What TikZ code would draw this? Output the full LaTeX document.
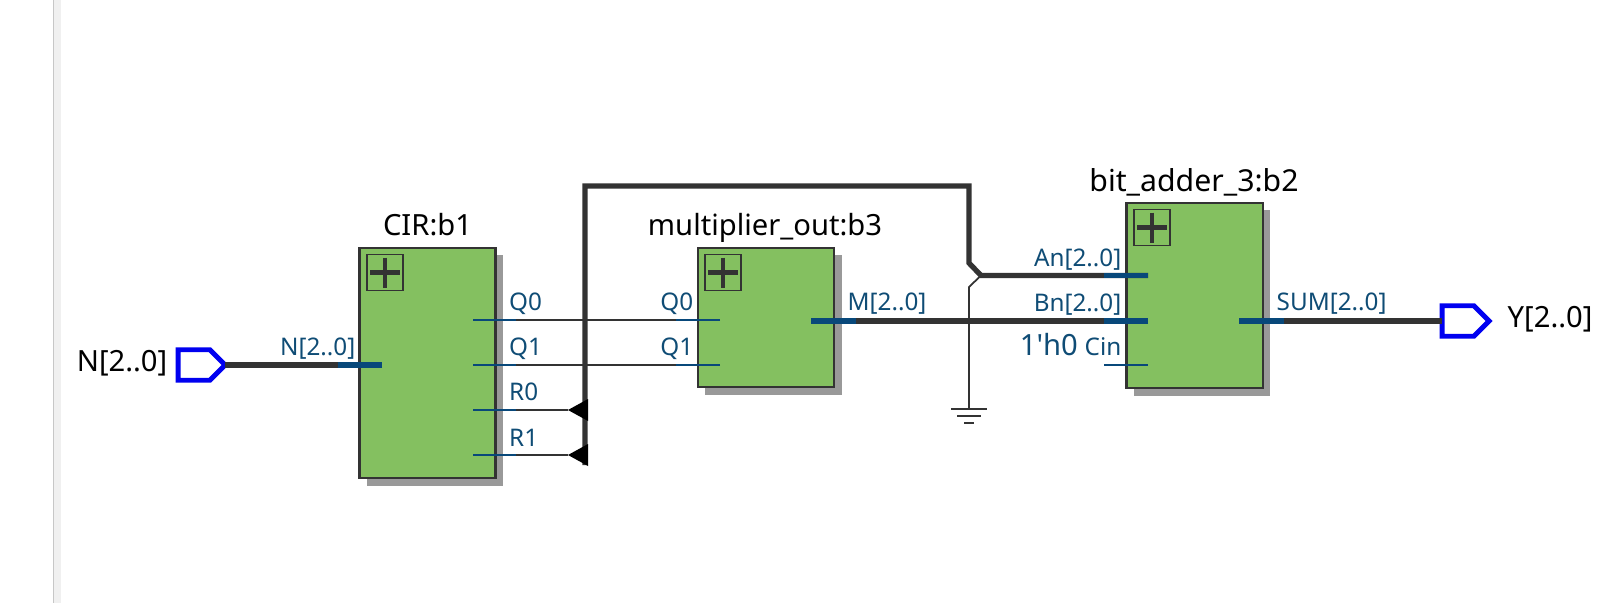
\documentclass[tikz,border=0pt]{standalone}
\usepackage{xcolor}
\usepackage{fontspec}
\setmainfont{Noto Sans}
\usetikzlibrary{shapes.symbols, arrows.meta, positioning, calc, shadows}
\definecolor{qgreen}{HTML}{84C060}
\definecolor{qwire}{HTML}{333333}
\definecolor{qport}{HTML}{0F4C75}
\definecolor{qstub}{HTML}{08487A}
\definecolor{qpin}{HTML}{0000F0}
\definecolor{qshadow}{HTML}{999999}

\begin{document}
\begin{tikzpicture}[
    x=0.01cm, y=-0.01cm,
    block/.style={rectangle, draw=qwire, line width=0.6pt, fill=qgreen, inner sep=0pt, outer sep=0pt, drop shadow={shadow xshift=0.075cm, shadow yshift=-0.075cm, fill=qshadow, opacity=1}},
    expandbox/.style={rectangle, draw=qwire, line width=0.5pt, inner sep=0pt, outer sep=0pt, minimum width=3.6mm, minimum height=3.6mm,
        path picture={\draw[qwire, line width=1.2pt] (path picture bounding box.center) +(-15,0) -- +(15,0) +(0,-15) -- +(0,15);}},
    iopin/.style={signal, signal to=east, signal pointer angle=90, draw=qpin, line width=1.4pt, inner sep=0pt, outer sep=0pt, minimum width=4.7mm, minimum height=3.05mm},
    thinwire/.style={draw=qwire, line width=0.5pt},
    buswire/.style={draw=qwire, line width=1.5pt, line join=miter},
    thinstub/.style={draw=qstub, line width=0.55pt},
    busstub/.style={draw=qstub, line width=1.5pt},
    ripper/.style={fill=black, draw=none},
    portname/.style={font=\fontsize{6.9}{8}\selectfont, color=qport, inner sep=0pt},
    bigname/.style={font=\fontsize{8.3}{10}\selectfont, color=black, inner sep=0pt}
]
\useasboundingbox (0,0) rectangle (1600,603);

% window edge
\fill[black!6] (53,0) rectangle (61,603);
\fill[black!22] (53,0) rectangle (54,603);

\node[block, minimum width=13.6mm, minimum height=23mm] (cir) at (427.5,363) {};
\node[block, minimum width=13.6mm, minimum height=13.9mm] (mult) at (766,317.5) {};
\node[block, minimum width=13.6mm, minimum height=18.5mm] (adder) at (1194.5,295.5) {};

\foreach \blk/\px/\py in {cir/385/272.5, mult/723/272.5, adder/1152/227.5}
    \node[expandbox] (\blk plus) at (\px,\py) {};

\node[iopin] (npin) at (194,365) {};
\node[iopin] (ypin) at (1458,321) {};

% pin ends
\coordinate (cirn) at (382,365);
\coordinate (cirq0) at (473,320);
\coordinate (cirq1) at (473,365);
\coordinate (cirr0) at (473,410);
\coordinate (cirr1) at (473,455);
\coordinate (multq0) at (720,320);
\coordinate (multq1) at (720,365);
\coordinate (multm) at (811,321);
\coordinate (adda) at (1148,275.5);
\coordinate (addb) at (1148,321);
\coordinate (addc) at (1148,365);
\coordinate (adds) at (1239,321);

\coordinate (r0tip) at (568,410);
\coordinate (r1tip) at (568,455);
\coordinate (busend) at (585,465);
\coordinate (bustop) at (969,186);
\coordinate (hook) at (969,263);
\coordinate (tap) at (981,275.5);
\coordinate (gndtap) at (969,287);
\coordinate (gnd) at (969,409);

% thin nets
\draw[thinwire] (cirq0) -- (multq0);
\draw[thinwire] (cirq1) -- (multq1);
\draw[thinwire] (cirr0) -- (r0tip);
\draw[thinwire] (cirr1) -- (r1tip);
\draw[thinwire] (tap) -- (gndtap) -- (gnd);
\foreach \w/\d in {18/0, 12/7, 5/14}
    \draw[thinwire] (gnd) ++(-\w,\d) -- ++(2*\w,0);

% bus nets
\draw[buswire] (npin.east) -- (cirn);
\draw[buswire] (multm) -- (addb);
\draw[buswire] (adds) -- (ypin.west);
\draw[buswire] (busend) |- (bustop) -- (hook) -- (tap) -- (adda);

\foreach \tip in {r0tip, r1tip}
    \fill[ripper] (\tip) -- ++(20,-11) -- ++(0,22) -- cycle;

% port stubs
\foreach \port in {cirq0, cirq1, cirr0, cirr1}
    \draw[thinstub] (\port) -- ++(43,0);
\foreach \port in {multq0, multq1, addc}
    \draw[thinstub] (\port) -- ++(-44,0);
\draw[busstub] (cirn) -- ++(-44,0);
\draw[busstub] (adda) -- ++(-44,0);
\draw[busstub] (addb) -- ++(-44,0);
\draw[busstub] (multm) -- ++(45,0);
\draw[busstub] (adds) -- ++(45,0);

% block names
\node[bigname, anchor=base] (cirname) at (427.5,235) {CIR:b1};
\node[bigname, anchor=base] (multname) at (765,235) {multiplier\_out:b3};
\node[bigname, font=\fontsize{8.6}{10}\selectfont, anchor=base] (addername) at (1194,191) {bit\_adder\_3:b2};
\node[bigname, anchor=base east] (nname) at (168,371) {N[2..0]};
\node[bigname, anchor=base west] (yname) at (1507,327) {Y[2..0]};

% port names
\node[portname, anchor=base east] (cirnport) at (356,355.5) {N[2..0]};
\foreach \nm/\txt/\py in {q0/Q0/310, q1/Q1/355.5, r0/R0/400, r1/R1/446}
    \node[portname, anchor=base west] (cir\nm port) at (508.5,\py) {\txt};
\node[portname, anchor=base east] (multq0port) at (694,310) {Q0};
\node[portname, anchor=base east] (multq1port) at (694,355.5) {Q1};
\node[portname, anchor=base west] (multmport) at (847,310) {M[2..0]};
\node[portname, anchor=base east] (addaport) at (1122,266) {An[2..0]};
\node[portname, anchor=base east] (addbport) at (1122,311) {Bn[2..0]};
\node[portname, anchor=base east] (addcport) at (1122,355.5) {Cin};
\node[bigname, color=qport, anchor=base east] (addczero) at (1078.5,355.5) {1\textquotesingle h0};
\node[portname, anchor=base west] (addsport) at (1276,310) {SUM[2..0]};

\end{tikzpicture}
\end{document}
